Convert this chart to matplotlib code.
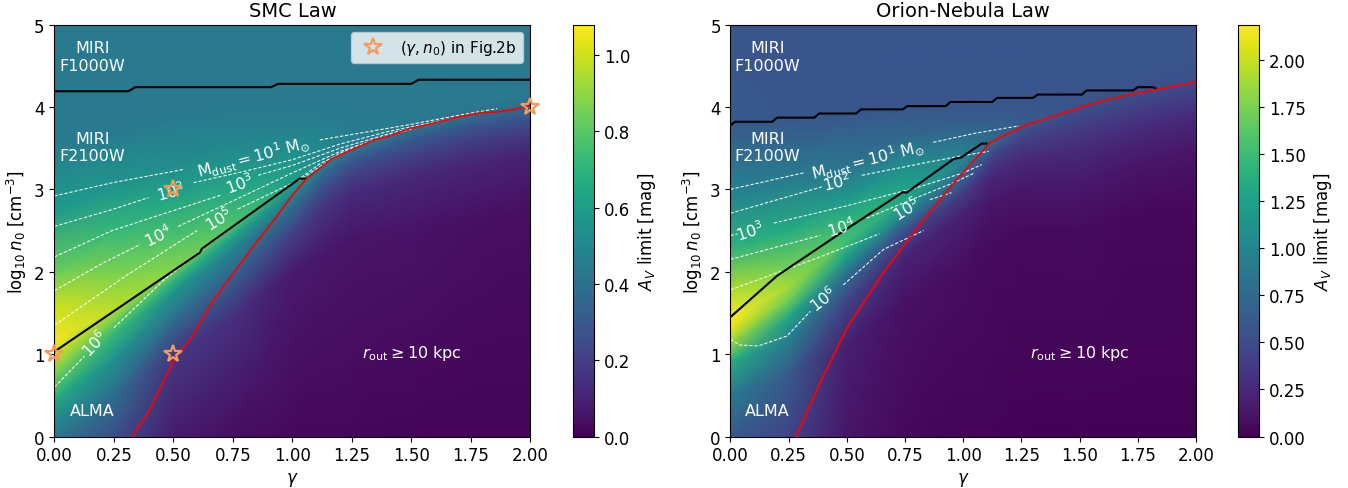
import numpy as np
import matplotlib.pyplot as plt

plt.rcParams['font.size'] = 12

# A_V limit was read along these gamma columns, at points that follow
# the bright ridge / the r_out boundary (log n0 position, value in mag)
gamma_cols = [0, 0.25, 0.5, 0.75, 1.0, 1.125, 1.25, 1.5, 1.75, 2.0]

logn_smc = [
    [0, 0.2, 0.45, 0.75, 1.0, 1.15, 1.55, 2.0, 2.75, 3.6, 5],
    [0, 0.5, 0.95, 1.25, 1.4, 1.55, 2.0, 2.5, 3.0, 3.7, 5],
    [0, 1.0, 1.45, 1.75, 1.9, 2.03, 2.4, 2.9, 3.3, 3.9, 5],
    [0, 1.45, 1.97, 2.27, 2.42, 2.57, 2.95, 3.35, 3.65, 4.0, 5],
    [0, 2.0, 2.5, 2.8, 2.95, 3.08, 3.35, 3.6, 3.8, 4.05, 5],
    [0, 2.2, 2.75, 3.05, 3.2, 3.35, 3.55, 3.75, 3.9, 4.1, 5],
    [0, 2.4, 2.95, 3.22, 3.38, 3.52, 3.68, 3.82, 3.95, 4.15, 5],
    [0, 2.5, 3.15, 3.45, 3.62, 3.77, 3.9, 4.0, 4.1, 4.2, 5],
    [0, 2.6, 3.3, 3.6, 3.78, 3.93, 4.03, 4.12, 4.2, 4.3, 5],
    [0, 2.7, 3.4, 3.7, 3.88, 4.05, 4.15, 4.22, 4.3, 4.4, 5],
]
av_smc = [
    [0.43, 0.52, 0.66, 0.85, 1.00, 1.06, 1.00, 0.83, 0.59, 0.44, 0.44],
    [0.26, 0.38, 0.56, 0.72, 0.84, 0.97, 0.86, 0.72, 0.57, 0.44, 0.44],
    [0.08, 0.18, 0.40, 0.56, 0.71, 0.88, 0.78, 0.63, 0.52, 0.44, 0.44],
    [0.04, 0.15, 0.34, 0.49, 0.62, 0.78, 0.66, 0.55, 0.48, 0.44, 0.44],
    [0.025, 0.08, 0.22, 0.38, 0.49, 0.62, 0.56, 0.50, 0.46, 0.44, 0.44],
    [0.02, 0.07, 0.16, 0.28, 0.38, 0.50, 0.50, 0.47, 0.45, 0.44, 0.44],
    [0.02, 0.06, 0.13, 0.22, 0.32, 0.46, 0.46, 0.445, 0.44, 0.44, 0.44],
    [0.015, 0.055, 0.12, 0.22, 0.32, 0.43, 0.44, 0.44, 0.44, 0.44, 0.44],
    [0.012, 0.045, 0.11, 0.20, 0.30, 0.42, 0.44, 0.44, 0.44, 0.44, 0.44],
    [0.01, 0.04, 0.10, 0.19, 0.29, 0.41, 0.44, 0.44, 0.44, 0.44, 0.44],
]

logn_orion = [
    [0, 0.5, 0.9, 1.15, 1.3, 1.42, 1.75, 2.3, 2.9, 3.8, 5],
    [0, 0.75, 1.2, 1.45, 1.65, 1.82, 2.05, 2.5, 3.1, 3.9, 5],
    [0, 1.1, 1.65, 2.0, 2.2, 2.38, 2.62, 2.9, 3.3, 3.95, 5],
    [0, 1.6, 2.2, 2.5, 2.7, 2.88, 3.1, 3.35, 3.65, 4.05, 5],
    [0, 2.0, 2.7, 2.95, 3.15, 3.33, 3.5, 3.65, 3.85, 4.1, 5],
    [0, 2.3, 2.85, 3.2, 3.42, 3.57, 3.72, 3.85, 4.0, 4.2, 5],
    [0, 2.5, 3.0, 3.35, 3.6, 3.78, 3.9, 4.0, 4.12, 4.3, 5],
    [0, 2.5, 3.1, 3.5, 3.8, 4.02, 4.12, 4.2, 4.3, 4.45, 5],
    [0, 2.7, 3.3, 3.7, 3.97, 4.18, 4.28, 4.36, 4.44, 4.55, 5],
    [0, 2.8, 3.45, 3.85, 4.1, 4.32, 4.42, 4.5, 4.6, 4.7, 5],
]
av_orion = [
    [0.62, 0.90, 1.35, 1.85, 2.10, 2.19, 1.95, 1.40, 1.00, 0.62, 0.57],
    [0.44, 0.62, 0.95, 1.30, 1.70, 1.88, 1.72, 1.35, 0.92, 0.59, 0.57],
    [0.12, 0.18, 0.44, 0.85, 1.25, 1.52, 1.42, 1.17, 0.83, 0.59, 0.57],
    [0.05, 0.10, 0.22, 0.52, 1.00, 1.30, 1.22, 1.02, 0.72, 0.58, 0.57],
    [0.025, 0.07, 0.20, 0.38, 0.68, 0.98, 0.90, 0.76, 0.63, 0.58, 0.57],
    [0.02, 0.06, 0.13, 0.26, 0.46, 0.75, 0.70, 0.64, 0.60, 0.58, 0.57],
    [0.015, 0.055, 0.13, 0.25, 0.42, 0.61, 0.60, 0.59, 0.58, 0.57, 0.57],
    [0.01, 0.06, 0.15, 0.27, 0.42, 0.55, 0.57, 0.57, 0.57, 0.57, 0.57],
    [0.01, 0.05, 0.13, 0.25, 0.40, 0.54, 0.56, 0.57, 0.57, 0.57, 0.57],
    [0.01, 0.045, 0.12, 0.24, 0.38, 0.52, 0.55, 0.56, 0.57, 0.57, 0.57],
]

vmax_smc = 1.08
vmax_orion = 2.19

# detection limit lines (gamma, log n0)
f1000w_smc = [(0, 4.19), (0.31, 4.19), (0.34, 4.24), (0.91, 4.24), (0.94, 4.28),
              (1.5, 4.28), (1.53, 4.33), (2.0, 4.33)]
f2100w_smc = [(0, 1.03), (0.61, 2.23), (0.62, 2.28), (1.03, 3.13), (1.055, 3.13)]
rout_smc = [(0.327, 0), (0.4, 0.32), (0.5, 0.92), (0.58, 1.22), (0.66, 1.62), (0.754, 1.99),
            (0.85, 2.36), (0.926, 2.64), (1.0, 2.93), (1.06, 3.13), (1.165, 3.37), (1.24, 3.47),
            (1.345, 3.6), (1.41, 3.65), (1.495, 3.74), (1.56, 3.78), (1.645, 3.84), (1.7, 3.88),
            (1.795, 3.93), (1.86, 3.94), (1.93, 3.97), (2.0, 4.02)]

f1000w_orion = [(0, 3.78), (0.02, 3.82), (0.18, 3.82), (0.2, 3.87), (0.36, 3.87), (0.38, 3.92),
                (0.54, 3.92), (0.56, 3.97), (0.74, 3.97), (0.76, 4.01), (0.925, 4.01), (0.945, 4.06),
                (1.125, 4.06), (1.145, 4.11), (1.3, 4.11), (1.32, 4.15), (1.51, 4.15), (1.53, 4.2),
                (1.73, 4.2), (1.75, 4.24), (1.815, 4.24), (1.83, 4.22)]
f2100w_orion = [(0, 1.45), (0.2, 1.95), (0.5, 2.52), (0.74, 2.965), (0.757, 2.96), (0.96, 3.37),
                (0.99, 3.385), (1.08, 3.555), (1.1, 3.555)]
rout_orion = [(0.281, 0), (0.38, 0.62), (0.503, 1.33), (0.657, 1.99), (0.81, 2.56), (0.964, 3.09),
              (1.04, 3.33), (1.117, 3.57), (1.21, 3.7), (1.27, 3.78), (1.424, 3.92), (1.578, 4.06),
              (1.731, 4.16), (1.885, 4.24), (2.0, 4.3)]

# dust mass contours, gap marks the break left for the label
gap = (None, None)
mdust_smc = [
    [(0, 2.92), (0.243, 3.08), (0.54, 3.24), gap, (1.115, 3.6), (1.3, 3.69), (1.5, 3.79), (1.7, 3.9), (1.86, 3.98)],
    [(0, 2.55), (0.243, 2.755), (0.396, 2.9), gap, (0.584, 3.08), (0.8, 3.22), (1.0, 3.36), (1.2, 3.55), (1.4, 3.7), (1.6, 3.82), (1.72, 3.89)],
    [(0, 2.18), (0.243, 2.5), (0.7, 2.93), gap, (0.856, 3.17), (1.0, 3.29), (1.2, 3.5), (1.4, 3.67), (1.58, 3.8)],
    [(0, 1.77), (0.2, 2.1), (0.36, 2.33), gap, (0.52, 2.55), (0.75, 2.86), (1.0, 3.2), (1.2, 3.46), (1.4, 3.65), (1.5, 3.73)],
    [(0, 1.35), (0.3, 1.95), (0.6, 2.5), gap, (0.77, 2.76), (1.04, 3.13), (1.2, 3.44), (1.35, 3.61)],
    [(0, 0.6), (0.126, 0.975), gap, (0.25, 1.32), (0.46, 1.9), (0.62, 2.27), (1.03, 3.13), (1.12, 3.32), (1.25, 3.49)],
]
mdust_orion = [
    [(0, 3.0), (0.314, 3.2), gap, (0.871, 3.57), (1.05, 3.68), (1.24, 3.77)],
    [(0, 2.71), (0.393, 3.03), gap, (0.564, 3.17), (0.85, 3.33), (1.0, 3.41), (1.11, 3.46)],
    [(0, 2.44), (0.03, 2.46), gap, (0.186, 2.59), (0.5, 2.8), (0.8, 3.02), (1.0, 3.2), (1.08, 3.3)],
    [(0, 2.15), (0.385, 2.44), gap, (0.585, 2.65), (0.8, 2.9), (0.95, 3.07), (1.05, 3.2)],
    [(0, 1.78), (0.357, 2.15), (0.64, 2.46), gap, (0.857, 2.875), (0.95, 2.96)],
    [(0, 1.18), (0.04, 1.11), (0.12, 1.1), (0.243, 1.22), (0.343, 1.52), gap, (0.485, 1.84), (0.657, 2.27), (0.83, 2.5)],
]

mdust_labels = [r'$\mathrm{M_{dust}} = 10^1\ \mathrm{M_{\odot}}$', r'$10^2$', r'$10^3$',
                r'$10^4$', r'$10^5$', r'$10^6$']
# label anchor (gamma, log n0, angle)
label_pos_smc = [(0.836, 3.40, 15), (0.487, 2.98, 15), (0.78, 3.07, 20),
                 (0.435, 2.44, 26), (0.69, 2.64, 31), (0.17, 1.14, 47)]
label_pos_orion = [(0.592, 3.37, 14), (0.457, 3.10, 14), (0.086, 2.50, 18),
                   (0.478, 2.55, 17), (0.757, 2.77, 32), (0.40, 1.67, 38)]

# (gamma, n0) used in Fig.2b
star_g = [0, 0.5, 0.5, 2.0]
star_n = [1, 3, 1, 4]

fig = plt.figure(figsize=(13.48, 4.89), dpi=100)
ax1 = fig.add_axes([0.0404, 0.1053, 0.3531, 0.8425])
cax1 = fig.add_axes([0.4251, 0.1053, 0.0159, 0.8425])
ax2 = fig.add_axes([0.5419, 0.1053, 0.3453, 0.8425])
cax2 = fig.add_axes([0.9184, 0.1053, 0.0159, 0.8425])


def split(points):
    g = [np.nan if p[0] is None else p[0] for p in points]
    n = [np.nan if p[1] is None else p[1] for p in points]
    return g, n


def panel(ax, cax, logn, av, vmax, title, f1000, f2100, rout, mdust, lab_pos, ticks):
    Y = np.array(logn).T
    X = np.tile(np.array(gamma_cols), (Y.shape[0], 1))
    C = np.array(av).T
    im = ax.pcolormesh(X, Y, C, shading='gouraud', cmap='viridis', vmin=0, vmax=vmax,
                       rasterized=True)
    for c in mdust:
        g, n = split(c)
        ax.plot(g, n, color='white', ls=(0, (3, 1.6)), lw=0.8, alpha=0.9)
    for txt, (x, y, a) in zip(mdust_labels, lab_pos):
        ax.text(x, y, txt, color='white', fontsize=11.5, rotation=a,
                ha='center', va='center', rotation_mode='anchor')
    g, n = split(f1000)
    ax.plot(g, n, color='black', lw=1.5)
    g, n = split(f2100)
    ax.plot(g, n, color='black', lw=1.5)
    g, n = split(rout)
    ax.plot(g, n, color='red', lw=1.3)

    ax.text(0.16, 4.61, 'MIRI\nF1000W', color='white', fontsize=11.5, ha='center', va='center')
    ax.text(0.16, 3.51, 'MIRI\nF2100W', color='white', fontsize=11.5, ha='center', va='center')
    ax.text(0.16, 0.31, 'ALMA', color='white', fontsize=11.5, ha='center', va='center')
    ax.text(1.5, 1.02, r'$r_{\rm out} \geq 10$ kpc', color='white', fontsize=11.5,
            ha='center', va='center')

    ax.set_xlim(0, 2)
    ax.set_ylim(0, 5)
    ax.set_xticks([0, 0.25, 0.5, 0.75, 1.0, 1.25, 1.5, 1.75, 2.0])
    ax.set_yticks([0, 1, 2, 3, 4, 5])
    ax.set_xlabel(r'$\gamma$')
    ax.set_ylabel(r'$\log_{10} n_0$ [cm$^{-3}$]')
    ax.set_title(title, fontsize=14)
    cb = fig.colorbar(im, cax=cax, ticks=ticks)
    cb.set_label(r'$A_V$ limit [mag]')
    return im


panel(ax1, cax1, logn_smc, av_smc, vmax_smc, 'SMC Law', f1000w_smc, f2100w_smc, rout_smc,
      mdust_smc, label_pos_smc, [0, 0.2, 0.4, 0.6, 0.8, 1.0])
panel(ax2, cax2, logn_orion, av_orion, vmax_orion, 'Orion-Nebula Law', f1000w_orion,
      f2100w_orion, rout_orion, mdust_orion, label_pos_orion,
      [0, 0.25, 0.5, 0.75, 1.0, 1.25, 1.5, 1.75, 2.0])
cax2.yaxis.set_major_formatter(plt.FormatStrFormatter('%.2f'))

ax1.plot(star_g, star_n, ls='none', marker='*', ms=13, mfc='none', mec='#f79a5a', mew=1.6,
         clip_on=False, zorder=5, label=r'$(\gamma, n_0)$ in Fig.2b')
ax1.legend(loc='upper right', fontsize=11)

plt.savefig('out.png', dpi=100)
